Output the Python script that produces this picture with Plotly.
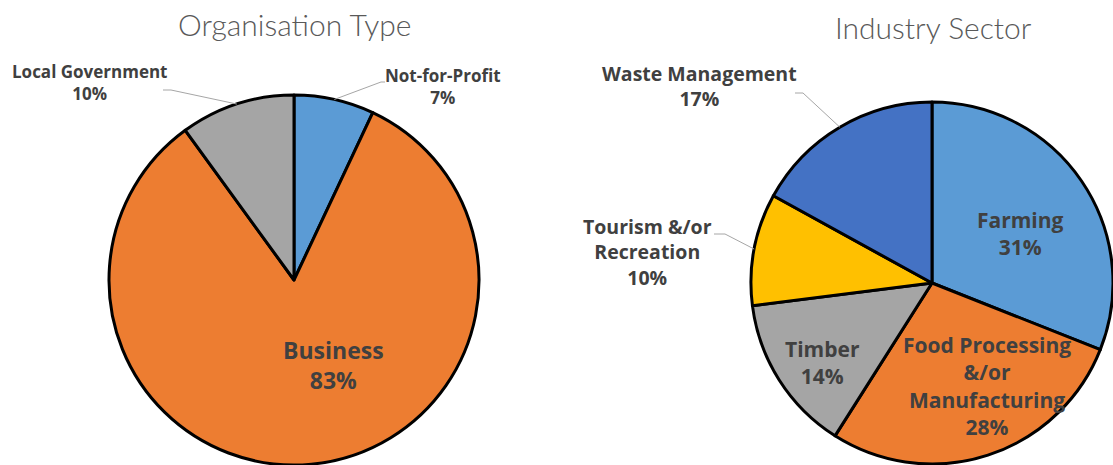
import math
import plotly.graph_objects as go

W, H = 1113, 465

# ---- data ----
org_labels = ["Not-for-Profit", "Business", "Local Government"]
org_values = [7, 83, 10]
org_colors = ["#5B9BD5", "#ED7D31", "#A5A5A5"]

ind_labels = ["Farming", "Food Processing<br>&/or<br>Manufacturing", "Timber",
              "Tourism &/or<br>Recreation", "Waste Management"]
ind_values = [31, 28, 14, 10, 17]
ind_colors = ["#5B9BD5", "#ED7D31", "#A5A5A5", "#FFC000", "#4472C4"]

titles = ["Organisation Type", "Industry Sector"]

# ---- layout geometry (pixels) ----
pies = [
    dict(cx=294, cy=280, r=185, title_y=24),
    dict(cx=932, cy=283, r=181, title_y=27),
]

def px(x, y):
    return x / W, 1 - y / H

fig = go.Figure()
for i, (labs, vals, cols) in enumerate([(org_labels, org_values, org_colors),
                                        (ind_labels, ind_values, ind_colors)]):
    g = pies[i]
    x0, y1 = px(g["cx"] - g["r"], g["cy"] - g["r"])
    x1, y0 = px(g["cx"] + g["r"], g["cy"] + g["r"])
    fig.add_trace(go.Pie(
        labels=labs, values=vals, sort=False, direction="clockwise", rotation=0,
        marker=dict(colors=cols, line=dict(color="#000000", width=3)),
        textinfo="none", hoverinfo="label+percent", showlegend=False,
        domain=dict(x=[max(0, x0), min(1, x1)], y=[max(0, y0), min(1, y1)]),
    ))

LABEL_COLOR = "#404040"
annotations = []
shapes = []

# titles
for i, t in enumerate(titles):
    g = pies[i]
    ax, ay = px(g["cx"] + (1 if i == 1 else 0), g["title_y"])
    annotations.append(dict(text=t, x=ax, y=ay, xref="paper", yref="paper",
                            showarrow=False, xanchor="center", yanchor="middle",
                            font=dict(family="Lato", size=30, color="#595959", weight=300)))

def pct_text(labs, vals, k):
    tot = sum(vals)
    return f"{labs[k]}<br>{round(100 * vals[k] / tot)}%"

def edge_point(g, vals, k):
    tot = sum(vals)
    mid = (sum(vals[:k]) + vals[k] / 2) / tot * 2 * math.pi
    return g["cx"] + g["r"] * math.sin(mid), g["cy"] - g["r"] * math.cos(mid)

# label placement: (pie index, slice index, label x, label y, size, leader elbow, leader end)
placements = [
    (0, 0, 443, 86, 17, (381, 82), (385, 82)),
    (0, 2, 89, 83, 17, (171, 90), (163, 90)),
    (0, 1, 333, 365, 23, None, None),
    (1, 0, 1020, 234, 21, None, None),
    (1, 1, 987, 386, 21, None, None),
    (1, 2, 822, 362, 21, None, None),
    (1, 3, 647, 252, 19.5, (725, 234), (714, 234)),
    (1, 4, 699, 86, 19.5, (803, 93), (795, 93)),
]
data = [(org_labels, org_values), (ind_labels, ind_values)]
for (pi, k, lx, ly, size, elbow, end) in placements:
    labs, vals = data[pi]
    ax, ay = px(lx, ly)
    annotations.append(dict(text=pct_text(labs, vals, k), x=ax, y=ay,
                            xref="paper", yref="paper", showarrow=False,
                            xanchor="center", yanchor="middle", align="center",
                            font=dict(family="Open Sans", size=size, color=LABEL_COLOR, weight=700)))
    if elbow is not None:
        ex, ey = edge_point(pies[pi], vals, k)
        p0 = px(ex, ey); p1 = px(*elbow); p2 = px(*end)
        shapes.append(dict(type="path", xref="paper", yref="paper",
                           path=f"M {p0[0]} {p0[1]} L {p1[0]} {p1[1]} L {p2[0]} {p2[1]}",
                           line=dict(color="#A6A6A6", width=1)))

fig.update_layout(
    width=W, height=H, margin=dict(l=0, r=0, t=0, b=0),
    paper_bgcolor="white", plot_bgcolor="white",
    annotations=annotations, shapes=shapes,
)
fig.write_html("out.html")
